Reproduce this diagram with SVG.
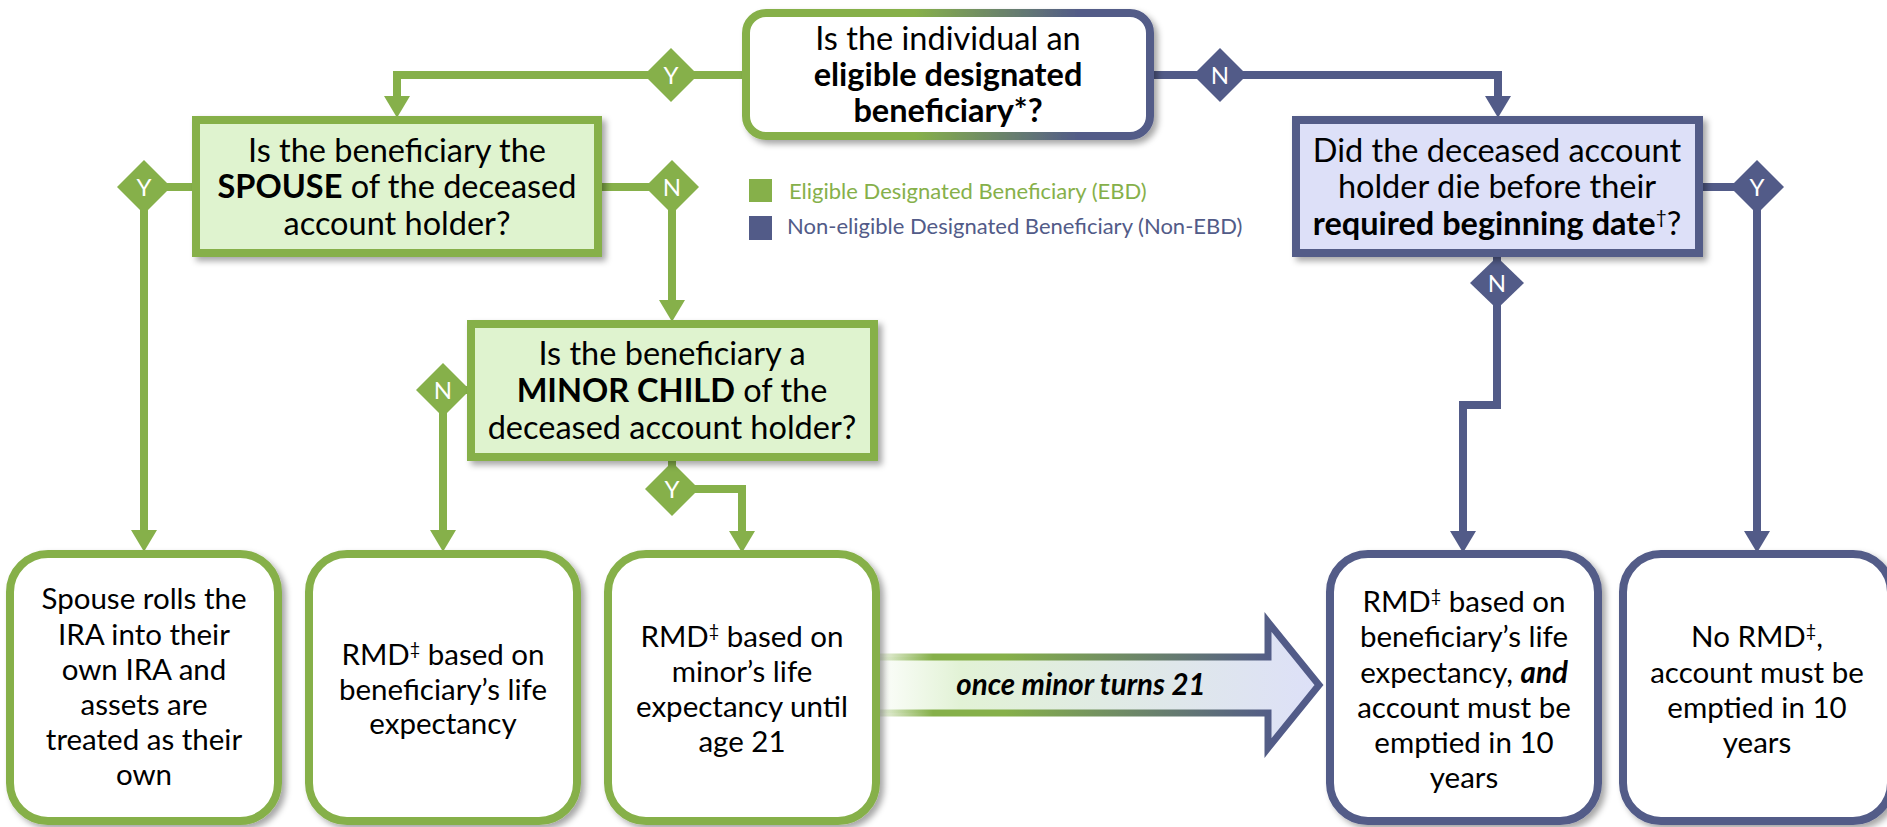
<svg xmlns="http://www.w3.org/2000/svg" width="1887" height="827" viewBox="0 0 1887 827">
<defs>
<style>
text{font-family:"Lato","Liberation Sans",sans-serif;fill:#000;}
.t{font-size:29.5px;text-anchor:middle;}
.q{font-size:32.5px;text-anchor:middle;}
.b{font-weight:700;}
.lbl{font-size:24px;fill:#fff;text-anchor:middle;}
.leg{font-size:22px;}
.g{stroke:#86b04a;}
.bl{stroke:#525b88;}
.ln{fill:none;stroke-width:8;}
.sq{fill:#dff3cf;stroke:#86b04a;stroke-width:8;}
.sqb{fill:#dde0f8;stroke:#525b88;stroke-width:8;}
.rg{fill:#fff;stroke:#86b04a;stroke-width:8;}
.rb{fill:#fff;stroke:#525b88;stroke-width:8;}
</style>
<filter id="sh" x="-10%" y="-10%" width="125%" height="125%">
<feDropShadow dx="4" dy="4" stdDeviation="3" flood-color="#000" flood-opacity="0.35"/>
</filter>
<marker id="ag" markerUnits="userSpaceOnUse" markerWidth="24" markerHeight="26" refX="0" refY="12" orient="auto" viewBox="0 0 20 24">
<path d="M0,0 L20,12 L0,24 Z" fill="#86b04a"/>
</marker>
<marker id="ab" markerUnits="userSpaceOnUse" markerWidth="24" markerHeight="26" refX="0" refY="12" orient="auto" viewBox="0 0 20 24">
<path d="M0,0 L20,12 L0,24 Z" fill="#525b88"/>
</marker>
<linearGradient id="topg" gradientUnits="userSpaceOnUse" x1="742" y1="0" x2="1154" y2="0">
<stop offset="0" stop-color="#86b04a"/>
<stop offset="0.42" stop-color="#86b04a"/>
<stop offset="0.82" stop-color="#525b88"/>
<stop offset="1" stop-color="#525b88"/>
</linearGradient>
<linearGradient id="arrs" gradientUnits="userSpaceOnUse" x1="870" y1="0" x2="1320" y2="0">
<stop offset="0" stop-color="#86b04a" stop-opacity="0"/>
<stop offset="0.14" stop-color="#86b04a" stop-opacity="1"/>
<stop offset="0.3" stop-color="#86b04a"/>
<stop offset="0.9" stop-color="#525b88"/>
<stop offset="1" stop-color="#525b88"/>
</linearGradient>
<linearGradient id="arrf" gradientUnits="userSpaceOnUse" x1="870" y1="0" x2="1320" y2="0">
<stop offset="0" stop-color="#ffffff"/>
<stop offset="0.2" stop-color="#e2f2d6"/>
<stop offset="1" stop-color="#dde0f8"/>
</linearGradient>
</defs>
<rect width="1887" height="827" fill="#fff"/>

<g id="connectors">
<path class="ln g" d="M742 75 H397 V96" marker-end="url(#ag)"/>
<path class="ln bl" d="M1154 75 H1498 V96" marker-end="url(#ab)"/>
<path class="ln g" d="M192 187 H144 V530" marker-end="url(#ag)"/>
<path class="ln g" d="M602 187 H672 V300" marker-end="url(#ag)"/>
<path class="ln g" d="M467 390 H443 V530" marker-end="url(#ag)"/>
<path class="ln g" d="M672 461 V489 H742 V531" marker-end="url(#ag)"/>
<path class="ln bl" d="M1497 257 V405 H1463 V531" marker-end="url(#ab)"/>
<path class="ln bl" d="M1703 187 H1757 V531" marker-end="url(#ab)"/>
<g id="arrow-minor-21">
<path d="M860 657 H1268 V622 L1319 685 L1268 748 V713 H860 Z" fill="url(#arrf)" stroke="url(#arrs)" stroke-width="7"/>
<text x="1081" y="695" style="font-size:29.5px;font-weight:700;font-style:italic;text-anchor:middle">once minor turns 21</text>
</g>
<g fill="#86b04a">
<path d="M671 48 L698 75 L671 102 L644 75 Z"/>
<path d="M144 160 L171 187 L144 214 L117 187 Z"/>
<path d="M672 160 L699 187 L672 214 L645 187 Z"/>
<path d="M443 363 L470 390 L443 417 L416 390 Z"/>
<path d="M672 462 L699 489 L672 516 L645 489 Z"/>
</g>
<g fill="#525b88">
<path d="M1220 48 L1247 75 L1220 102 L1193 75 Z"/>
<path d="M1497 257 L1524 283 L1497 309 L1470 283 Z"/>
<path d="M1757 160 L1784 187 L1757 214 L1730 187 Z"/>
</g>
<text class="lbl" x="671" y="84">Y</text>
<text class="lbl" x="1220" y="84">N</text>
<text class="lbl" x="144" y="196">Y</text>
<text class="lbl" x="672" y="196">N</text>
<text class="lbl" x="443" y="399">N</text>
<text class="lbl" x="672" y="498">Y</text>
<text class="lbl" x="1497" y="292">N</text>
<text class="lbl" x="1757" y="196">Y</text>
</g>

<g id="legend">
<rect x="749" y="179" width="23" height="23" fill="#86b04a"/>
<text class="leg" x="789" y="199" style="fill:#86b04a">Eligible Designated Beneficiary (EBD)</text>
<rect x="749" y="216" width="23" height="24" fill="#525b88"/>
<text class="leg" x="787" y="234" style="fill:#525b88">Non-eligible Designated Beneficiary (Non-EBD)</text>
</g>

<g id="q-eligible">
<rect x="746" y="13" width="404" height="123" rx="20" fill="#fff" stroke="url(#topg)" stroke-width="8" filter="url(#sh)"/>
<text class="q" x="948" y="50">Is the individual an</text>
<text class="q b" x="948" y="86">eligible designated</text>
<text class="q b" x="948" y="122">beneficiary*?</text>
</g>

<g id="q-spouse">
<rect class="sq" x="196" y="120" width="402" height="133" filter="url(#sh)"/>
<text class="q" x="397" y="162">Is the beneficiary the</text>
<text class="q" x="397" y="198"><tspan class="b">SPOUSE</tspan> of the deceased</text>
<text class="q" x="397" y="235">account holder?</text>
</g>

<g id="q-minor">
<rect class="sq" x="471" y="324" width="403" height="133" filter="url(#sh)"/>
<text class="q" x="672" y="365">Is the beneficiary a</text>
<text class="q" x="672" y="402"><tspan class="b">MINOR CHILD</tspan> of the</text>
<text class="q" x="672" y="439">deceased account holder?</text>
</g>

<g id="q-rbd">
<rect class="sqb" x="1296" y="120" width="403" height="133" filter="url(#sh)"/>
<text class="q" x="1497" y="162">Did the deceased account</text>
<text class="q" x="1497" y="198">holder die before their</text>
<text class="q" x="1497" y="235"><tspan class="b">required beginning date</tspan><tspan dy="-11" font-size="19">†</tspan><tspan dy="11">?</tspan></text>
</g>

<g id="r-spouse-rollover">
<rect class="rg" x="10" y="554" width="268" height="267" rx="38" filter="url(#sh)"/>
<text class="t" x="144" y="609">Spouse rolls the</text>
<text class="t" x="144" y="645">IRA into their</text>
<text class="t" x="144" y="680">own IRA and</text>
<text class="t" x="144" y="715">assets are</text>
<text class="t" x="144" y="750">treated as their</text>
<text class="t" x="144" y="785">own</text>
</g>

<g id="r-life-expectancy">
<rect class="rg" x="309" y="554" width="268" height="267" rx="38" filter="url(#sh)"/>
<text class="t" x="443" y="665">RMD<tspan dy="-10" font-size="18">‡</tspan><tspan dy="10"> based on</tspan></text>
<text class="t" x="443" y="700">beneficiary’s life</text>
<text class="t" x="443" y="734">expectancy</text>
</g>

<g id="r-minor">
<rect class="rg" x="608" y="554" width="268" height="267" rx="38" filter="url(#sh)"/>
<text class="t" x="742" y="647">RMD<tspan dy="-10" font-size="18">‡</tspan><tspan dy="10"> based on</tspan></text>
<text class="t" x="742" y="682">minor’s life</text>
<text class="t" x="742" y="717">expectancy until</text>
<text class="t" x="742" y="752">age 21</text>
</g>

<g id="r-life-10yr">
<rect class="rb" x="1330" y="554" width="268" height="267" rx="38" filter="url(#sh)"/>
<text class="t" x="1464" y="612">RMD<tspan dy="-10" font-size="18">‡</tspan><tspan dy="10"> based on</tspan></text>
<text class="t" x="1464" y="647">beneficiary’s life</text>
<text class="t" x="1464" y="683">expectancy, <tspan class="b" font-style="italic">and</tspan></text>
<text class="t" x="1464" y="718">account must be</text>
<text class="t" x="1464" y="753">emptied in 10</text>
<text class="t" x="1464" y="788">years</text>
</g>

<g id="r-10yr">
<rect class="rb" x="1623" y="554" width="268" height="267" rx="38" filter="url(#sh)"/>
<text class="t" x="1757" y="647">No RMD<tspan dy="-10" font-size="18">‡</tspan><tspan dy="10">,</tspan></text>
<text class="t" x="1757" y="683">account must be</text>
<text class="t" x="1757" y="718">emptied in 10</text>
<text class="t" x="1757" y="753">years</text>
</g>
</svg>
